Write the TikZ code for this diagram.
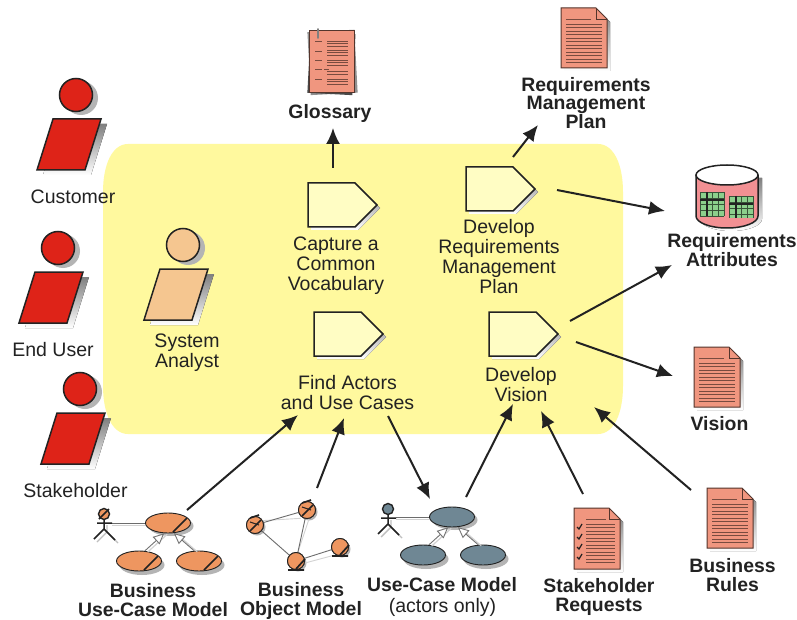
\documentclass[tikz,border=0pt]{standalone}
\usepackage{fontspec}
\setmainfont{Liberation Sans}
\usetikzlibrary{arrows.meta,shapes.geometric}
\definecolor{zone}{HTML}{FFF99E}
\definecolor{actfill}{HTML}{FFFDC4}
\definecolor{redfig}{HTML}{DE2318}
\definecolor{tanfig}{HTML}{F5C690}
\definecolor{salmon}{HTML}{F0967F}
\definecolor{orangeuc}{HTML}{EE9660}
\definecolor{slateuc}{HTML}{6F8794}
\definecolor{ink}{HTML}{222222}
\definecolor{shade}{HTML}{B4B4B4}
\definecolor{dbpink}{HTML}{F29093}
\definecolor{tabgreen}{HTML}{8CCF8C}
\tikzset{
  x=1pt,y=-1pt,
  plain/.style={font=\fontsize{19.5}{19.8}\selectfont,text=ink,align=center,inner sep=0pt},
  heavy/.style={font=\fontsize{19.4}{18.4}\selectfont\bfseries,text=ink,align=center,inner sep=0pt},
  flow/.style={draw=ink,line width=2pt,-{Latex[length=16pt,width=14pt]}},
  outline/.style={draw=ink,line width=1.5pt,line join=miter},
  ucase/.style={ellipse,draw=ink,line width=.9pt,minimum width=45pt,minimum height=20pt,inner sep=0pt},
  ucshadow/.style={ellipse,fill=shade,minimum width=45pt,minimum height=20pt,inner sep=0pt},
  gen/.style={draw=gray!90!black,line width=.9pt,-{Triangle[open,fill=white,length=11pt,width=10pt]}},
  gensoft/.style={draw=gray!35,line width=1.2pt},
  assoc/.style={draw=gray!85!black,line width=.9pt},
  assocsoft/.style={draw=gray!35,line width=.9pt},
  slash/.style={draw=ink,line width=1.7pt},
  textline/.style={draw=black!50!salmon,line width=.9pt},
  objnode/.style={circle,draw=ink,line width=.9pt,fill=orangeuc,minimum size=17pt,inner sep=0pt},
}
\newcommand{\person}[4]{% name, x, y (top-left of body), fill
  \begin{scope}[shift={(#2,#3)}]
    \fill[shade] (6,5)--(54,5)--(38,56)--(-10,56)--cycle;
    \node[circle,fill=shade,minimum size=34pt,inner sep=0pt] at (28,-21) {};
    \draw[outline,fill=#4] (0,0)--(48,0)--(32,51)--(-16,51)--cycle;
    \node[circle,outline,fill=#4,minimum size=33pt,inner sep=0pt] (#1) at (23,-24) {};
  \end{scope}}
\newcommand{\activity}[3]{% name x y
  \begin{scope}[shift={(#2,#3)}]
    \fill[shade] (3,3)--(50,3)--(72,25)--(50,47)--(3,47)--cycle;
    \draw[outline,fill=actfill] (0,0)--(47,0)--(69,22)--(47,44)--(0,44)--cycle;
    \coordinate (#1) at (34,22);
  \end{scope}}
\newcommand{\docsheet}[2]{% w h
  \fill[shade] (3,3)--(#1-8,3)--(#1+3,14)--(#1+3,#2+3)--(3,#2+3)--cycle;
  \draw[draw=black!65!salmon,line width=1pt,fill=salmon] (0,0)--(#1-11,0)--(#1,11)--(#1,#2)--(0,#2)--cycle;
  \draw[draw=black!65!salmon,line width=.8pt] (#1-11,0)--(#1-11,11)--(#1,11);}
\newcommand{\docpage}[3]{% name x y
  \begin{scope}[shift={(#2,#3)}]
    \docsheet{46}{60}
    \draw[textline] (5,11)--(30,11);
    \foreach \yy in {16,19.5,23,26.5,30,33.5,37,40.5,44,47.5,51,54.5} \draw[textline] (5,\yy)--(41,\yy);
    \coordinate (#1) at (23,30);
  \end{scope}}
\newcommand{\ucmodel}[6]{% prefix, head x, head y, main x, main y, fill
  \node[ucshadow] at (#4+3,#5+3) {};
  \node[ucshadow] at (#4-26,#5+42) {};
  \node[ucshadow] at (#4+34,#5+42) {};
  \node[ucase,fill=#6] (#1main) at (#4,#5) {};
  \node[ucase,fill=#6] (#1left) at (#4-29,#5+38) {};
  \node[ucase,fill=#6] (#1right) at (#4+31,#5+38) {};
  \coordinate (#1hand) at (#2+8,#5);
  \draw[assocsoft] ([yshift=-2pt]#1hand)--([yshift=-2pt]#1main.west);
  \draw[assoc] (#1hand) -- (#1main.west);
  \begin{scope}[shift={(#2,#3)}]
    \draw[gray!50,line width=1.4pt] (3,11)--(3,18)--(-7,28) (3,18)--(14,29);
    \draw[ink,line width=1.5pt] (-7,9)--(8,9) (0,6)--(0,15)--(-10,25) (0,15)--(11,26);
    \node[circle,draw=ink,fill=#6,line width=1.4pt,minimum size=11pt,inner sep=0pt] (#1head) at (0,0) {};
  \end{scope}
  \draw[gensoft] ([xshift=3pt,yshift=-1pt]#1left.60) -- ([xshift=3pt,yshift=-1pt]#1main.250);
  \draw[gensoft] ([xshift=3pt,yshift=-1pt]#1right.115) -- ([xshift=3pt,yshift=-1pt]#1main.300);
  \draw[gen] (#1left.60) -- (#1main.250);
  \draw[gen] (#1right.115) -- (#1main.300);}
\begin{document}
\begin{tikzpicture}
\useasboundingbox (0,0) rectangle (797,620);
\fill[white] (0,0) rectangle (797,620);
\fill[zone] (128,144) -- (598,144) .. controls (614,144) and (623,165) .. (623,192)
  -- (623,386) .. controls (623,413) and (614,434) .. (598,434)
  -- (128,434) .. controls (112,434) and (103,413) .. (103,386)
  -- (103,192) .. controls (103,165) and (112,144) .. (128,144) -- cycle;

% people
\person{customer}{53}{119}{redfig}
\person{enduser}{35}{272}{redfig}
\person{stakehold}{57}{413}{redfig}
\person{analyst}{160}{269}{tanfig}
\node[plain] (lcustomer) at (73,197) {Customer};
\node[plain] (lenduser) at (53,350) {End User};
\node[plain] (lstakehold) at (75.5,491) {Stakeholder};
\node[plain] (lanalyst) at (187,352.5) {System\\Analyst};

% activities
\activity{capture}{308}{183}
\activity{devreq}{466}{167}
\activity{findact}{314}{312}
\activity{devvis}{489}{312}
\node[plain] (lcapture) at (336,266) {Capture a\\Common\\Vocabulary};
\node[plain] (ldevreq) at (499,256.5) {Develop\\Requirements\\Management\\Plan};
\node[plain] (lfindact) at (347.5,392.5) {Find Actors\\and Use Cases};
\node[plain] (ldevvis) at (521,384.5) {Develop\\Vision};

% glossary
\begin{scope}[shift={(309,31)}]
  \fill[shade!80!black,rotate around={3:(22,31)}] (0,0) rectangle (47,63);
  \fill[shade!40!black,rotate around={-3:(22,31)}] (0,2) rectangle (45,63);
  \draw[draw=black!65!salmon,line width=1pt,fill=salmon] (0,0) rectangle (45,62);
  \foreach \yy in {10,20,29,38,48} \draw[textline] (6,\yy)--(13,\yy);
  \draw[textline] (15,38)--(20,38);
  \foreach \yy in {10,12.5,15,19,21.5,24,29,31.5,34,40.5,43,48,50.5,53} \draw[textline] (18,\yy)--(39,\yy);
  \draw[gray,line width=1.8pt,line cap=round] (9,-2)--(9,7);
  \coordinate (glossarydoc) at (22,31);
\end{scope}
\node[heavy] (lglossary) at (330,113) {Glossary};

% documents
\docpage{rmp}{561}{8}
\docpage{vision}{694}{347}
\docpage{rules}{707}{488}
\node[heavy] (lrmp) at (586,103) {Requirements\\Management\\Plan};
\node[heavy] (lvision) at (719.5,424) {Vision};
\node[heavy] (lrules) at (732.5,575) {Business\\Rules};

% stakeholder requests
\begin{scope}[shift={(574,508)}]
  \docsheet{46}{61}
  \draw[textline] (12,11)--(32,11);
  \foreach \yy in {16,19.5,23,26.5,30,33.5,37,40.5,44,47.5,51,54.5} \draw[textline] (12,\yy)--(41,\yy);
  \foreach \yy in {20,30,40,50} \draw[ink,line width=1.2pt] (3,\yy-1)--(5,\yy+1)--(8,\yy-4);
  \coordinate (requests) at (23,30);
\end{scope}
\node[heavy] (lrequests) at (599,597) {Stakeholder\\Requests};

% database
\fill[shade] (700,178) -- (700,219) arc[start angle=180,end angle=0,x radius=31,y radius=12] -- (762,178) -- cycle;
\draw[outline,fill=dbpink] (696,175) -- (696,216) arc[start angle=180,end angle=0,x radius=31,y radius=12] -- (758,175);
\node[ellipse,draw=ink,line width=1.5pt,fill=white,minimum width=62pt,minimum height=20pt,inner sep=0pt] (dbtop) at (727,175) {};
\fill[tabgreen] (700,192) rectangle (724,216);
\draw[black!60!tabgreen,line width=.6pt,step=6pt,shift={(700,192)}] (0,0) grid (24,24);
\draw[ink,line width=2.2pt] (707,192)--(707,216) (700,200)--(724,200);
\fill[tabgreen] (729,196) rectangle (753,218);
\draw[black!60!tabgreen,line width=.6pt,step=6pt,shift={(729,196)}] (0,0) grid (24,22);
\draw[ink,line width=2.2pt] (736,196)--(736,218) (729,204)--(753,204);
\node[heavy] (lattrs) at (732,250) {Requirements\\Attributes};

% business use-case model
\ucmodel{buc}{104}{514}{168}{523}{orangeuc}
\draw[slash] (173,532)--(187,518) (144,570)--(158,556) (204,570)--(218,556);
\draw[slash] (99,519)--(109,509);
\node[heavy] (lbuc) at (153,600) {Business\\Use-Case Model};

% business object model
\foreach \n/\px/\py in {oa/255/525,ob/307/510,oc/296/561,od/340/547}{
  \node[circle,fill=shade,minimum size=17pt,inner sep=0pt] at (\px+2,\py+2) {};
}
\node[objnode] (oa) at (255,525) {};
\node[objnode] (ob) at (307,510) {};
\node[objnode] (oc) at (296,561) {};
\node[objnode] (od) at (340,547) {};
\draw[assocsoft] ([yshift=-2pt]oa.north east)--([yshift=-2pt]ob.south west);
\draw[assoc] (oa)--(ob);
\draw[assoc] (oa)--(oc);
\draw[assocsoft] ([xshift=2pt]ob.south)--([xshift=2pt]oc.north);
\draw[assoc] (ob)--(oc);
\draw[assocsoft] ([yshift=-2pt]oc.east)--([yshift=-2pt]od.south west);
\draw[assoc] (oc)--(od);
\node[objnode] at (255,525) {};
\node[objnode] at (307,510) {};
\node[objnode] at (296,561) {};
\node[objnode] at (340,547) {};
\draw[slash] (288,570)--(304,570) (296,569)--(305,559);
\draw[slash] (332,556)--(348,556) (340,555)--(349,545);
\draw[slash] (250,531)--(261,520) (250,518)--(259,515) (302,516)--(313,505) (302,503)--(311,500);
\draw[ink,line width=1.1pt] (250,522)--(259,525) (302,507)--(311,510);
\node[heavy] (lbom) at (301,601) {Business\\Object Model};

% use-case model actors only
\ucmodel{uc}{388}{509}{452}{517}{slateuc}
\node[heavy] (luc) at (442,585) {Use-Case Model};
\node[plain] (lactors) at (442.5,607) {(actors only)};

% connector ends
\coordinate (a1s) at (333,168); \coordinate (a1e) at (333,128);
\coordinate (a2s) at (513,157); \coordinate (a2e) at (538,125);
\coordinate (a3s) at (557,190); \coordinate (a3e) at (665,211);
\coordinate (a4s) at (570,321); \coordinate (a4e) at (672,265);
\coordinate (a5s) at (576,342); \coordinate (a5e) at (673,376);
\coordinate (a6s) at (187,510); \coordinate (a6e) at (298,415);
\coordinate (a7s) at (317,488); \coordinate (a7e) at (344,418);
\coordinate (a8s) at (388,416); \coordinate (a8e) at (430,499);
\coordinate (a9s) at (466,497); \coordinate (a9e) at (513,404);
\coordinate (a10s) at (583,494); \coordinate (a10e) at (541,411);
\coordinate (a11s) at (691,490); \coordinate (a11e) at (594,407);
\foreach \k in {1,...,11} \draw[flow] (a\k s) -- (a\k e);
\end{tikzpicture}
\end{document}
